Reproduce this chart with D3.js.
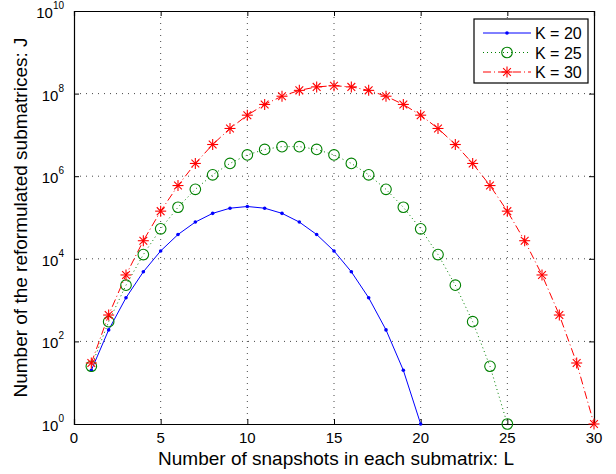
<!DOCTYPE html>
<html>
<head>
<meta charset="utf-8">
<script src="https://cdn.jsdelivr.net/npm/d3@7"></script>
<style>
  body { margin: 0; background: #fff; }
  text { font-family: "Liberation Sans", Arial, sans-serif; }
</style>
</head>
<body>
<script>
// J for each L
var lK20 = d3.range(1, 21)
var jK20 = [20, 190, 1140, 4845, 15504, 38760, 77520, 125970, 167960, 184756,
            167960, 125970, 77520, 38760, 15504, 4845, 1140, 190, 20, 1]
var lK25 = d3.range(1, 26)
var jK25 = [25, 300, 2300, 12650, 53130, 177100, 480700, 1081575, 2042975, 3268760,
            4457400, 5200300, 5200300, 4457400, 3268760, 2042975, 1081575, 480700, 177100, 53130,
            12650, 2300, 300, 25, 1]
var lK30 = d3.range(1, 31)
var jK30 = [30, 435, 4060, 27405, 142506, 593775, 2035800, 5852925, 14307150, 30045015,
            54627300, 86493225, 119759850, 145422675, 155117520, 145422675, 119759850, 86493225, 54627300, 30045015,
            14307150, 5852925, 2035800, 593775, 142506, 27405, 4060, 435, 30, 1]
var xTicks = [0, 5, 10, 15, 20, 25, 30]
var yExps = [0, 2, 4, 6, 8, 10]
var seriesNames = ['K = 20', 'K = 25', 'K = 30']

var w = 616
var h = 474
var pL = 74, pR = 594, pT = 11, pB = 424 // plot box

var svg = d3.select('body')
  .append('svg')
  .attr('width', w)
  .attr('height', h)

var x = d3.scaleLinear().domain([0, 30]).range([pL, pR])
var y = d3.scaleLog().domain([1, 1e10]).range([pB, pT])

// grid
var grid = svg.append('g')
grid.selectAll('line.gx')
  .data(xTicks.slice(1, -1))
  .enter().append('line')
  .attr('x1', function(d){ return x(d) }).attr('x2', function(d){ return x(d) })
  .attr('y1', pT).attr('y2', pB)
  .attr('stroke', '#333').attr('stroke-width', 0.9).attr('stroke-dasharray', '1,5')
grid.selectAll('line.gy')
  .data(yExps.slice(1, -1))
  .enter().append('line')
  .attr('y1', function(d){ return y(Math.pow(10, d)) }).attr('y2', function(d){ return y(Math.pow(10, d)) })
  .attr('x1', pL).attr('x2', pR)
  .attr('stroke', '#333').attr('stroke-width', 0.9).attr('stroke-dasharray', '1,5')

// axes with inward ticks on all four sides
var yVals = yExps.map(function(e){ return Math.pow(10, e) })
svg.append('g').attr('transform', 'translate(0,' + pB + ')')
  .call(d3.axisBottom(x).tickValues(xTicks).tickSize(-5).tickFormat(''))
svg.append('g').attr('transform', 'translate(0,' + pT + ')')
  .call(d3.axisTop(x).tickValues(xTicks).tickSize(-5).tickFormat(''))
svg.append('g').attr('transform', 'translate(' + pL + ',0)')
  .call(d3.axisLeft(y).tickValues(yVals).tickSize(-5).tickFormat(''))
svg.append('g').attr('transform', 'translate(' + pR + ',0)')
  .call(d3.axisRight(y).tickValues(yVals).tickSize(-5).tickFormat(''))
svg.selectAll('.domain').attr('stroke', '#000').attr('stroke-width', 1.2)
svg.selectAll('.tick line').attr('stroke', '#000')

// tick labels
svg.selectAll('text.xt')
  .data(xTicks)
  .enter().append('text')
  .attr('x', function(d){ return x(d) })
  .attr('y', pB + 19)
  .attr('text-anchor', 'middle')
  .attr('font-size', '15px')
  .text(function(d){ return d })

var yl = svg.selectAll('text.yt')
  .data(yExps)
  .enter().append('text')
  .attr('x', pL - 10)
  .attr('y', function(d){ return y(Math.pow(10, d)) + 7 })
  .attr('text-anchor', 'end')
  .attr('font-size', '15px')
yl.append('tspan').text('10')
yl.append('tspan').attr('dy', -9).attr('font-size', '10px').text(function(d){ return d })

// axis labels
svg.append('text')
  .attr('x', 336)
  .attr('y', 465)
  .attr('text-anchor', 'middle')
  .attr('font-size', '19px')
  .text('Number of snapshots in each submatrix: L')
svg.append('text')
  .attr('transform', 'translate(27,' + ((pT + pB) / 2) + ') rotate(-90)')
  .attr('text-anchor', 'middle')
  .attr('font-size', '19px')
  .text('Number of the reformulated submatrices: J')

// lines
var line = d3.line()
  .x(function(d){ return x(d[0]) })
  .y(function(d){ return y(d[1]) })

var s20 = d3.zip(lK20, jK20)
var s25 = d3.zip(lK25, jK25)
var s30 = d3.zip(lK30, jK30)

svg.append('path').datum(s20).attr('d', line)
  .attr('fill', 'none').attr('stroke', '#0000ff').attr('stroke-width', 1)
svg.append('path').datum(s25).attr('d', line)
  .attr('fill', 'none').attr('stroke', '#008000').attr('stroke-width', 1).attr('stroke-dasharray', '1,3')
svg.append('path').datum(s30).attr('d', line)
  .attr('fill', 'none').attr('stroke', '#ff0000').attr('stroke-width', 1).attr('stroke-dasharray', '8,3,1,3')

// markers
function dot(g, cx, cy) {
  g.append('circle').attr('cx', cx).attr('cy', cy).attr('r', 1.8).attr('fill', '#0000ff')
}
function ring(g, cx, cy) {
  g.append('circle').attr('cx', cx).attr('cy', cy).attr('r', 5.3)
    .attr('fill', 'none').attr('stroke', '#008000').attr('stroke-width', 1.1)
}
function star(g, cx, cy) {
  var r = 5.5
  ;[0, 45, 90, 135].forEach(function(a){
    var dx = r * Math.cos(a * Math.PI / 180), dy = r * Math.sin(a * Math.PI / 180)
    g.append('line').attr('x1', cx - dx).attr('y1', cy - dy).attr('x2', cx + dx).attr('y2', cy + dy)
      .attr('stroke', '#ff0000').attr('stroke-width', 1.1)
  })
}

var mk = svg.append('g')
s20.forEach(function(d){ dot(mk, x(d[0]), y(d[1])) })
s25.forEach(function(d){ ring(mk, x(d[0]), y(d[1])) })
s30.forEach(function(d){ star(mk, x(d[0]), y(d[1])) })

// legend
var lg = svg.append('g')
lg.append('rect').attr('x', 474).attr('y', 19).attr('width', 114).attr('height', 64)
  .attr('fill', '#fff').attr('stroke', '#000').attr('stroke-width', 1.2)
var legStyles = [
  { color: '#0000ff', dash: null, mark: dot },
  { color: '#008000', dash: '1,3', mark: ring },
  { color: '#ff0000', dash: '8,3,1,3', mark: star }
]
seriesNames.forEach(function(name, i){
  var ly = 33 + i * 19.5
  lg.append('line').attr('x1', 483).attr('x2', 531).attr('y1', ly).attr('y2', ly)
    .attr('stroke', legStyles[i].color).attr('stroke-width', 1)
    .attr('stroke-dasharray', legStyles[i].dash)
  legStyles[i].mark(lg, 507, ly)
  lg.append('text').attr('x', 535).attr('y', ly + 6).attr('font-size', '16px').text(name)
})
</script>
</body>
</html>
